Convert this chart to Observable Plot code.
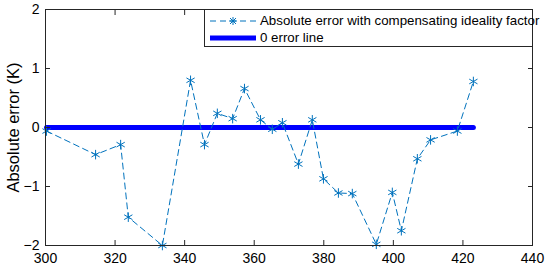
<!DOCTYPE html>
<html>
<head>
<meta charset="utf-8">
<script src="https://cdn.jsdelivr.net/npm/d3@7"></script>
<script src="https://cdn.jsdelivr.net/npm/@observablehq/plot@0.6"></script>
<style>
  html, body { margin: 0; padding: 0; background: #fff; }
  #wrap { position: relative; width: 550px; height: 271px; font-family: "Liberation Sans", Arial, sans-serif; }
  #legend { position: absolute; left: 204px; top: 9px; width: 329px; height: 38px; box-sizing: border-box;
    border: 1px solid #262626; background: #fff; font-size: 13.3px; color: #000; }
  .row { position: absolute; left: 4px; height: 17px; display: flex; align-items: center; white-space: nowrap; }
  .row svg { margin-right: 3px; }
</style>
</head>
<body>
<div id="wrap"></div>
<script>
// Data
const temperature = [300.3, 314.4, 321.6, 323.8, 333.6, 341.7, 345.7, 349.4, 353.8, 357.2, 361.8, 365.2, 368.1, 372.7, 376.7, 379.9, 384.2, 388.2, 395.1, 399.7, 402.3, 406.9, 410.7, 418.4, 423.0];
const absError = [-0.06, -0.46, -0.29, -1.52, -2.0, 0.80, -0.29, 0.24, 0.15, 0.66, 0.13, -0.03, 0.08, -0.62, 0.13, -0.87, -1.11, -1.12, -1.98, -1.10, -1.75, -0.53, -0.21, -0.06, 0.78];
const zeroLineX = [300.3, 423.0];
const zeroLineY = [0, 0];
const xTicks = [300, 320, 340, 360, 380, 400, 420, 440];
const yTicks = [-2, -1, 0, 1, 2];
const seriesLabels = ["Absolute error with compensating ideality factor", "0 error line"];
const yLabel = "Absolute error (K)";

const errColor = "#0072BD";
const zeroColor = "#0000FF";
const axisColor = "#262626";

const errData = temperature.map((t, i) => ({t, e: absError[i]}));
const zeroData = zeroLineX.map((t, i) => ({t, e: zeroLineY[i]}));

const chart = Plot.plot({
  width: 550,
  height: 271,
  marginLeft: 45,
  marginRight: 18,
  marginTop: 9,
  marginBottom: 26,
  style: {fontFamily: "'Liberation Sans', Arial, sans-serif", fontSize: "13px", color: "#000", background: "transparent"},
  x: {domain: [300, 440]},
  y: {domain: [-2, 2]},
  marks: [
    Plot.line(zeroData, {x: "t", y: "e", stroke: zeroColor, strokeWidth: 5}),
    Plot.line(errData, {x: "t", y: "e", stroke: errColor, strokeWidth: 1, strokeDasharray: "6,4"}),
    Plot.dot(errData, {x: "t", y: "e", symbol: "asterisk", r: 4.5, stroke: errColor, strokeWidth: 1}),
    Plot.frame({stroke: axisColor, strokeWidth: 1}),
    Plot.axisX(xTicks, {anchor: "bottom", tickSize: -5, tickPadding: 13, stroke: axisColor, label: null, fontSize: 14}),
    Plot.axisX(xTicks, {anchor: "top", tickSize: -5, tickFormat: () => "", stroke: axisColor, label: null}),
    Plot.axisY(yTicks, {anchor: "left", tickSize: -5, tickPadding: 11, stroke: axisColor, fontSize: 14,
      tickFormat: d => d < 0 ? "\u2212" + Math.abs(d) : String(d), label: null}),
    Plot.axisY(yTicks, {anchor: "right", tickSize: -5, tickFormat: () => "", stroke: axisColor, label: null}),
    Plot.text([yLabel], {text: d => d, frameAnchor: "left", rotate: -90, dx: -32, fontSize: 16.5, lineAnchor: "middle", textAnchor: "middle"})
  ]
});

const wrap = document.getElementById("wrap");
wrap.appendChild(chart);

const legend = document.createElement("div");
legend.id = "legend";
legend.innerHTML = `
  <div class="row" style="top:2px">
    <svg width="48" height="10"><line x1="1" y1="5" x2="47" y2="5" stroke="${errColor}" stroke-dasharray="6,4"/>
      <g stroke="${errColor}" transform="translate(24,5)"><line x1="-4" y1="0" x2="4" y2="0"/><line x1="0" y1="-4" x2="0" y2="4"/><line x1="-3" y1="-3" x2="3" y2="3"/><line x1="-3" y1="3" x2="3" y2="-3"/></g></svg>
    <span>${seriesLabels[0]}</span>
  </div>
  <div class="row" style="top:19px">
    <svg width="48" height="10"><line x1="1" y1="5" x2="47" y2="5" stroke="${zeroColor}" stroke-width="5"/></svg>
    <span>${seriesLabels[1]}</span>
  </div>`;
wrap.appendChild(legend);
</script>
</body>
</html>
